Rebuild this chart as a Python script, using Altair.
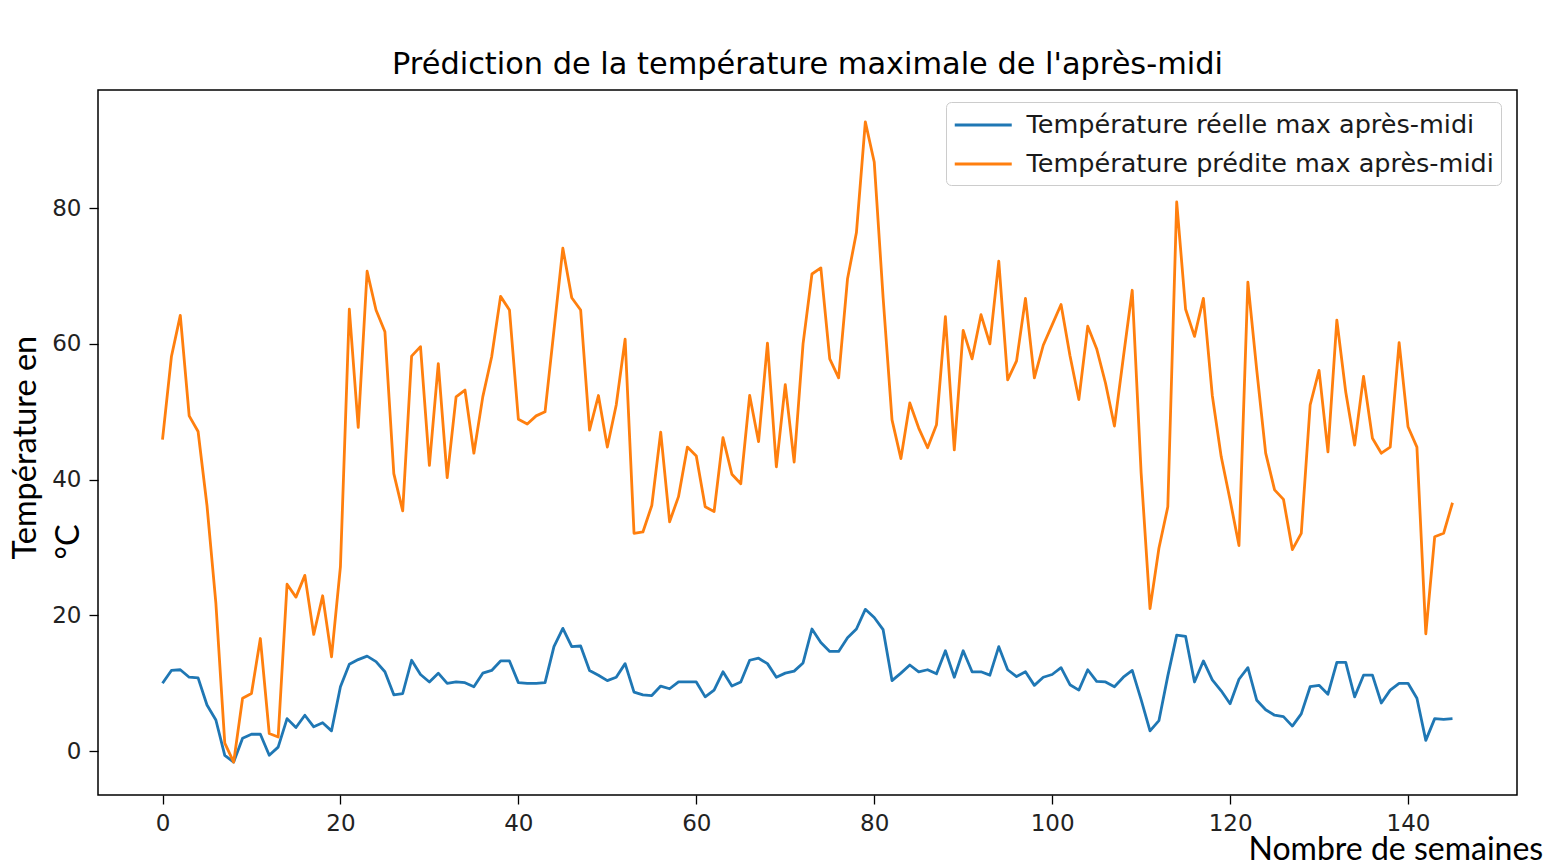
import altair as alt
import pandas as pd

semaines = list(range(146))

temp_reelle = [
    10.0, 11.9, 12.0, 10.9, 10.8, 6.8, 4.6, -0.6, -1.6, 1.9,
    2.5, 2.5, -0.6, 0.6, 4.8, 3.5, 5.3, 3.6, 4.2, 3.0,
    9.5, 12.8, 13.5, 14.0, 13.2, 11.7, 8.3, 8.5, 13.4, 11.3,
    10.2, 11.5, 10.0, 10.2, 10.1, 9.5, 11.5, 11.9, 13.3, 13.3,
    10.1, 10.0, 10.0, 10.1, 15.4, 18.1, 15.4, 15.5, 11.9, 11.2,
    10.4, 10.9, 12.9, 8.7, 8.3, 8.2, 9.6, 9.2, 10.2, 10.2,
    10.2, 8.0, 9.0, 11.7, 9.6, 10.2, 13.4, 13.7, 12.9, 10.9,
    11.5, 11.8, 13.0, 18.0, 16.0, 14.7, 14.7, 16.7, 18.0, 20.9,
    19.7, 17.9, 10.4, 11.5, 12.7, 11.7, 12.0, 11.4, 14.8, 10.9,
    14.8, 11.7, 11.7, 11.2, 15.4, 12.0, 11.0, 11.7, 9.7, 10.9,
    11.3, 12.3, 9.8, 9.0, 12.0, 10.3, 10.2, 9.5, 10.9, 11.9,
    7.6, 3.0, 4.5, 11.1, 17.1, 16.9, 10.2, 13.3, 10.5, 8.9,
    7.0, 10.6, 12.3, 7.5, 6.1, 5.3, 5.1, 3.7, 5.5, 9.5,
    9.7, 8.4, 13.1, 13.1, 8.0, 11.2, 11.2, 7.1, 9.0, 10.0,
    10.0, 7.8, 1.6, 4.8, 4.7, 4.8,
]

temp_predite = [
    45.9, 58.1, 64.2, 49.4, 47.1, 36.2, 21.8, 1.2, -1.6, 7.8,
    8.5, 16.6, 2.6, 2.1, 24.6, 22.7, 25.9, 17.2, 22.9, 13.9,
    27.2, 65.1, 47.7, 70.7, 65.0, 61.8, 40.9, 35.4, 58.2, 59.6,
    42.1, 57.1, 40.3, 52.2, 53.2, 43.9, 52.2, 58.1, 67.0, 65.0,
    48.9, 48.2, 49.4, 50.0, 62.0, 74.1, 66.8, 65.0, 47.3, 52.4,
    44.8, 51.0, 60.7, 32.1, 32.3, 36.2, 47.0, 33.8, 37.5, 44.8,
    43.5, 36.0, 35.3, 46.2, 40.8, 39.4, 52.4, 45.6, 60.1, 41.9,
    54.0, 42.6, 60.0, 70.3, 71.2, 57.8, 55.0, 69.6, 76.4, 92.7,
    86.8, 66.8, 48.8, 43.1, 51.3, 47.6, 44.7, 48.1, 64.0, 44.4,
    62.0, 57.8, 64.3, 60.0, 72.2, 54.7, 57.5, 66.7, 55.0, 59.8,
    62.8, 65.8, 58.3, 51.8, 62.6, 59.3, 54.2, 47.9, 58.0, 67.9,
    41.0, 21.0, 29.9, 36.0, 80.9, 65.1, 61.1, 66.7, 52.4, 43.4,
    37.0, 30.3, 69.1, 56.1, 43.9, 38.5, 37.1, 29.7, 32.1, 51.0,
    56.1, 44.1, 63.5, 52.9, 45.1, 55.2, 46.1, 43.9, 44.8, 60.2,
    47.8, 44.8, 17.3, 31.6, 32.1, 36.6,
]

series_names = ["Température réelle max après-midi", "Température prédite max après-midi"]
series_colors = ["#1f77b4", "#ff7f0e"]
x_ticks = [0, 20, 40, 60, 80, 100, 120, 140]
y_ticks = [0, 20, 40, 60, 80]

df = pd.concat([
    pd.DataFrame({"semaine": semaines, "temp": temp_reelle, "serie": series_names[0], "ordre": 0}),
    pd.DataFrame({"semaine": semaines, "temp": temp_predite, "serie": series_names[1], "ordre": 1}),
])

chart = alt.Chart(df).mark_line(strokeWidth=2.8, strokeJoin="round").encode(
    x=alt.X("semaine:Q",
            scale=alt.Scale(domain=[-7.25, 152.25], nice=False, zero=False),
            axis=alt.Axis(values=x_ticks, title="Nombre de semaines",
                          titleFont="Lato", titleFontSize=32, titleFontWeight="normal",
                          titleColor="black", titleAlign="left", titleBaseline="alphabetic",
                          titleX=1150, titleY=64, titleAngle=0,
                          labelPadding=8)),
    y=alt.Y("temp:Q",
            scale=alt.Scale(domain=[-6.45, 97.4], nice=False, zero=False),
            axis=alt.Axis(values=y_ticks, title=["Température en", "°C"],
                          titleFont="Lato", titleFontSize=32.5, titleFontWeight="normal",
                          titleColor="black", titleAngle=270, titleAlign="left",
                          titleBaseline="alphabetic", titleX=-63, titleY=469,
                          titleLineHeight=43.5, labelPadding=8)),
    color=alt.Color("serie:N",
                    scale=alt.Scale(domain=series_names, range=series_colors),
                    legend=alt.Legend(title=None, orient="none", legendX=848, legendY=12,
                                      symbolType="M-1,0H3", symbolSize=812,
                                      symbolStrokeWidth=2.8, labelOffset=41.5,
                                      labelFont="DejaVu Sans", labelFontSize=25.5,
                                      labelColor="#1a1a1a", labelLimit=0,
                                      padding=7, rowPadding=9,
                                      fillColor="white", strokeColor="#cccccc",
                                      cornerRadius=5)),
    order="ordre:Q",
    detail="serie:N",
).properties(
    width=1419,
    height=705,
    title=alt.TitleParams(
        "Prédiction de la température maximale de l'après-midi",
        font="DejaVu Sans", fontSize=30.4, fontWeight="normal", color="black",
        anchor="middle", offset=10,
    ),
    autosize=alt.AutoSizeParams(type="none"),
    padding={"left": 90, "top": 82, "right": 31, "bottom": 65},
).configure(
    background="white"
).configure_view(
    stroke="black", strokeWidth=1.5
).configure_axis(
    grid=False, domain=False, tickColor="black", tickWidth=1.3, tickSize=9,
    labelFont="DejaVu Sans", labelFontSize=23, labelColor="#222222",
)

chart.save("out.html", embed_options={"renderer": "svg", "actions": False})
